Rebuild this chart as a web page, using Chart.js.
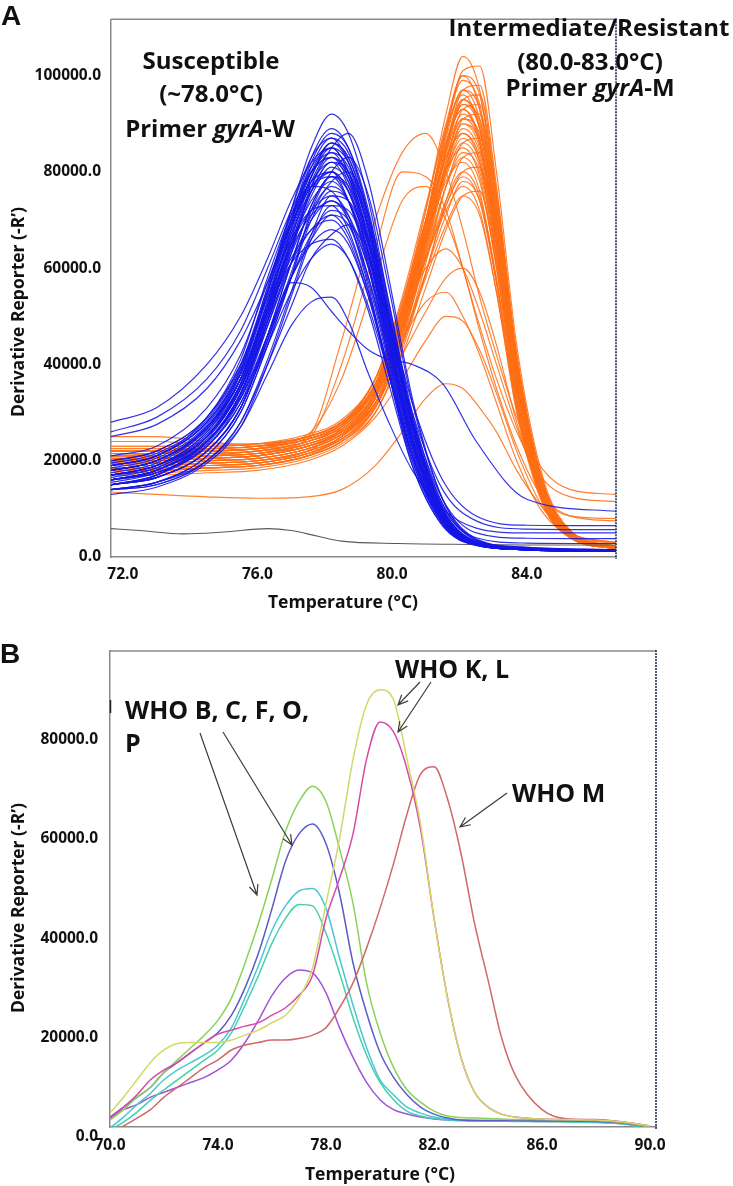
<!DOCTYPE html>
<html><head><meta charset="utf-8">
<script src="https://cdn.jsdelivr.net/npm/chart.js@4.4.1/dist/chart.umd.min.js"></script>
<style>
html,body{margin:0;padding:0;background:#fff;}
#wrap{position:relative;width:733px;height:1186px;overflow:hidden;background:#fff;}
canvas{position:absolute;left:0;}
#cA{top:0;width:733px;height:620px;}
#cB{top:620px;width:733px;height:566px;}
</style></head><body>
<div id="wrap"><canvas id="cA" width="733" height="620"></canvas><canvas id="cB" width="733" height="566"></canvas></div>
<script>
// ---------------- Panel A data (derivative reporter, thousands) ----------------
const tempGridSusceptible = [71.65, 73, 74.5, 75.5, 76.3, 77, 77.6, 78.2, 78.7, 79.3, 79.9, 80.6, 81.5, 82.5, 84, 86.65];
const susceptibleCurvesK = [
 [18, 20, 27, 38, 55, 72, 85, 92, 88, 74, 53, 29, 10, 3.2, 1.8, 1.4],
 [17, 19, 26, 37, 53, 70, 83, 89, 85, 71, 51, 28, 9.5, 3, 1.7, 1.3],
 [16, 17.5, 23, 33, 48, 63, 77, 85, 88, 78, 58, 33, 12, 3.5, 1.8, 1.4],
 [19, 21, 28, 39, 56, 72, 83, 87, 82, 68, 48, 26, 9, 3, 1.6, 1.2],
 [15, 17, 24, 34, 50, 66, 79, 86, 83, 70, 50, 27, 9, 2.8, 1.5, 1.2],
 [20, 22, 29, 40, 56, 71, 81, 85, 80, 66, 46, 24, 8, 2.6, 1.5, 1.2],
 [17, 18.5, 25, 35, 51, 66, 78, 84, 81, 68, 49, 27, 9.5, 3, 1.7, 1.3],
 [14, 15.5, 21, 30, 44, 58, 72, 80, 83, 75, 56, 32, 12, 3.8, 2, 1.5],
 [18, 20, 27, 38, 54, 69, 78, 82, 77, 63, 44, 23, 8, 2.6, 1.5, 1.2],
 [16, 18, 24, 34, 49, 64, 75, 81, 78, 66, 48, 27, 9.5, 3, 1.6, 1.3],
 [21, 23, 31, 42, 57, 70, 78, 80, 74, 60, 41, 21, 7, 2.5, 1.5, 1.2],
 [15, 16.5, 22, 31, 46, 61, 73, 79, 76, 65, 48, 27, 10, 3.2, 1.8, 1.4],
 [17, 19, 26, 36, 51, 65, 74, 78, 74, 61, 43, 23, 8, 2.7, 1.6, 1.3],
 [19, 21, 29, 41, 58, 71, 77, 76, 70, 56, 38, 19, 6.5, 2.4, 1.5, 1.2],
 [14, 15.5, 21, 30, 44, 58, 70, 76, 74, 63, 46, 26, 9.5, 3, 1.7, 1.3],
 [18, 20, 27, 37, 52, 65, 72, 75, 71, 58, 41, 22, 7.5, 2.6, 1.5, 1.2],
 [16, 18, 24, 34, 48, 61, 70, 74, 71, 60, 43, 24, 8.5, 2.8, 1.6, 1.3],
 [20, 22, 29, 40, 54, 66, 72, 73, 68, 55, 38, 20, 7, 2.5, 1.5, 1.2],
 [15, 16.5, 22, 31, 45, 58, 67, 72, 70, 60, 44, 25, 9, 3, 1.7, 1.3],
 [17, 19, 25, 35, 49, 61, 68, 71, 67, 55, 39, 21, 7.5, 2.7, 1.6, 1.3],
 [18, 20, 27, 37, 51, 62, 68, 70, 66, 54, 38, 20, 7, 2.5, 1.5, 1.2],
 [14, 15, 20, 28, 40, 52, 62, 67, 69, 62, 47, 28, 11, 3.5, 2, 1.5],
 [16, 18, 24, 33, 46, 58, 65, 68, 65, 54, 39, 21, 7.5, 2.7, 1.6, 1.3],
 [19, 21, 28, 38, 51, 61, 65, 66, 62, 51, 36, 19, 6.5, 2.4, 1.5, 1.2],
 [15, 17, 23, 32, 44, 55, 62, 65, 62, 52, 38, 21, 8, 2.8, 1.7, 1.3],
 [17, 19, 25, 36, 52, 69, 82, 88, 85, 72, 52, 29, 10, 3.1, 1.7, 1.3],
 [16, 18, 25, 36, 52, 68, 80, 86, 82, 69, 49, 27, 9, 2.9, 1.6, 1.2],
 [19, 21, 28, 39, 55, 70, 80, 83, 78, 64, 45, 24, 8, 2.6, 1.5, 1.2],
 [15, 16.5, 22, 31, 45, 59, 71, 78, 80, 71, 53, 30, 11, 3.5, 1.9, 1.4],
 [17, 19, 25, 35, 50, 63, 72, 77, 74, 62, 44, 24, 8.5, 2.8, 1.6, 1.3],
 [18, 20, 27, 37, 52, 64, 71, 74, 70, 57, 40, 21, 7, 2.5, 1.5, 1.2],
 [16, 17.5, 23, 32, 46, 58, 66, 71, 69, 58, 42, 23, 8.5, 3, 1.7, 1.3],
 [28, 31, 40, 50, 62, 74, 82, 85, 80, 66, 47, 25, 9, 3, 1.8, 1.4],
 [26, 29, 37, 47, 60, 72, 80, 83, 79, 65, 46, 25, 9, 3, 1.8, 1.4],
 [25, 27.5, 35, 45, 57, 69, 77, 80, 76, 63, 45, 24, 8.5, 2.8, 1.6, 1.3],
 [14, 15, 20, 28, 41, 55, 67, 75, 74, 65, 50, 32, 16, 8.5, 6.6, 6.5],
 [13, 14.5, 19.5, 27, 40, 54, 66, 73, 72, 63, 48, 30, 14, 7.5, 5.8, 5.7],
 [15, 16.5, 22, 31, 46, 61, 73, 79, 77, 66, 49, 29, 12, 5, 3.9, 3.8],
 [16, 18, 24, 34, 49, 64, 76, 82, 79, 67, 49, 28, 10.5, 4, 2.9, 2.8],
 [16.5, 18.5, 25, 35.5, 51, 67, 79, 85, 82, 69, 50, 27.5, 9.5, 3, 1.7, 1.3],
 [18.5, 20.5, 27.5, 38.5, 55, 70, 80, 84, 79, 65, 46, 25, 8.5, 2.8, 1.6, 1.2],
 [15.5, 17.5, 23.5, 33.5, 49, 65, 77, 83, 80, 68, 49, 27, 9.5, 3, 1.7, 1.3],
 [17.5, 19.5, 26.5, 37, 53, 68, 79, 86, 83, 70, 50, 28, 9.5, 3, 1.7, 1.3],
 [19.5, 21.5, 28.5, 39.5, 55, 69, 77, 79, 74, 61, 42, 22, 7.5, 2.6, 1.5, 1.2],
 [16, 18, 24.5, 35, 50, 65, 76, 82, 80, 68, 50, 28, 10, 3.1, 1.7, 1.3],
 [18, 20, 26.5, 37, 53, 67, 76, 80, 76, 63, 44, 23, 8, 2.7, 1.6, 1.3],
 [17, 19, 25.5, 36, 52, 68, 81, 87, 84, 71, 51, 28, 9.5, 3, 1.7, 1.3],
 [15, 17, 24, 33, 45, 57, 56, 51, 47, 43, 41, 40, 36, 24, 12, 9.5],
 [14, 15.5, 20, 27, 38, 48, 53, 54, 49, 38, 28, 18, 10, 6, 5, 5]
];
const tempGridResistant = [71.65, 73, 74.5, 76, 77.5, 78.5, 79.5, 80.3, 81, 81.6, 82.1, 82.6, 83.1, 83.7, 84.5, 85.3, 86.65];
const resistantCurvesK = [
 [21, 21, 21.5, 22, 24, 27.5, 36, 52, 72, 92, 104, 97, 74, 40, 14, 5, 2],
 [19, 19, 19.5, 20, 22, 25, 33, 48, 68, 88, 101, 102, 80, 44, 16, 5.5, 2.2],
 [22, 22, 22.5, 23, 25, 28, 37, 53, 72, 90, 100, 93, 71, 38, 13, 4.5, 1.8],
 [20, 20.5, 21, 21.5, 23, 26, 34, 50, 70, 89, 99, 94, 73, 40, 14, 5, 2],
 [18.5, 18.5, 19, 19.5, 21.5, 24.5, 32, 47, 66, 85, 97, 98, 77, 42, 15, 5.2, 2.1],
 [21, 21, 21.5, 22, 24, 27, 35, 51, 70, 88, 97, 91, 70, 38, 13, 4.6, 1.9],
 [23, 23, 23, 23.5, 25, 28, 37, 54, 73, 89, 96, 89, 68, 36, 12, 4.3, 1.8],
 [19.5, 19.5, 20, 20.5, 22.5, 25.5, 33, 48, 67, 85, 95, 90, 70, 39, 14, 5, 2],
 [20, 20, 20.5, 21, 23, 26, 34, 50, 68, 85, 94, 89, 69, 38, 13.5, 4.8, 1.9],
 [22, 22, 22, 22.5, 24.5, 27.5, 36, 52, 70, 86, 93, 86, 65, 35, 12, 4.3, 1.8],
 [18, 18, 18.5, 19, 21, 24, 31, 45, 63, 80, 91, 92, 73, 41, 15, 5.3, 2.1],
 [21, 21, 21.5, 22, 24, 27, 35, 50, 67, 83, 91, 86, 66, 36, 12.5, 4.5, 1.8],
 [19, 19.5, 20, 20.5, 22.5, 25.5, 33, 47, 65, 81, 90, 86, 67, 37, 13, 4.7, 1.9],
 [20.5, 20.5, 21, 21.5, 23.5, 26.5, 34, 49, 66, 81, 89, 84, 65, 36, 12.5, 4.5, 1.8],
 [23, 23, 23, 23.5, 25.5, 28.5, 37, 53, 70, 83, 88, 82, 62, 33, 11, 4, 1.7],
 [18, 18, 18.5, 19, 21, 24, 31, 44, 61, 77, 86, 87, 70, 40, 15, 5.3, 2.1],
 [20, 20, 20.5, 21, 23, 26, 33, 48, 64, 79, 86, 81, 63, 35, 12.5, 4.5, 1.8],
 [21.5, 21.5, 22, 22.5, 24.5, 27.5, 35, 50, 66, 80, 85, 79, 60, 33, 11.5, 4.2, 1.8],
 [19, 19, 19.5, 20, 22, 25, 32, 46, 62, 77, 84, 80, 62, 35, 12.5, 4.5, 1.9],
 [20, 20.5, 21, 21.5, 23.5, 26.5, 34, 48, 63, 77, 83, 78, 60, 33, 12, 4.3, 1.8],
 [22, 22, 22.5, 23, 25, 28, 36, 51, 66, 78, 82, 76, 57, 31, 11, 4, 1.7],
 [18.5, 18.5, 19, 19.5, 21.5, 24.5, 31, 44, 59, 73, 80, 81, 65, 37, 14, 5, 2],
 [20, 20, 20.5, 21, 23, 26, 33, 47, 62, 74, 80, 75, 58, 32, 11.5, 4.2, 1.8],
 [21, 21, 21.5, 22, 24, 27, 34, 48, 62, 73, 79, 74, 57, 31, 11, 4, 1.7],
 [19.5, 19.5, 20, 20.5, 22.5, 25.5, 32, 45, 59, 71, 78, 74, 57, 32, 11.5, 4.2, 1.8],
 [22.5, 22.5, 22.5, 23, 25, 28, 35, 49, 62, 72, 77, 72, 55, 30, 10.5, 3.9, 1.7],
 [18, 18, 18.5, 19, 21, 24, 30, 42, 56, 68, 75, 76, 61, 35, 13, 4.8, 2],
 [20, 20, 20.5, 21, 23, 26, 32, 45, 58, 69, 75, 71, 55, 31, 11, 4, 1.7],
 [20.5, 20.5, 21, 21.5, 23.5, 26.5, 34, 49, 69, 89, 100, 96, 75, 41, 14.5, 5.2, 2],
 [19, 19, 19.5, 20, 22, 25, 32, 46, 65, 84, 95, 96, 76, 42, 15, 5.3, 2.1],
 [21.5, 21.5, 22, 22.5, 24.5, 27.5, 35, 51, 69, 86, 93, 87, 67, 36, 12.5, 4.5, 1.8],
 [20, 20, 20.5, 21, 23, 26, 33, 48, 65, 81, 90, 85, 66, 36, 13, 4.6, 1.9],
 [24, 24, 23.5, 23.5, 25, 28, 36, 51, 67, 80, 87, 82, 63, 34, 12, 4.3, 1.8],
 [17.5, 17.5, 18, 18.5, 20.5, 23.5, 30, 43, 59, 74, 83, 84, 67, 38, 14, 5, 2],
 [25, 25, 24, 23, 24.5, 27.5, 35, 50, 66, 80, 88, 83, 64, 35, 12.5, 4.5, 1.8],
 [20.5, 20.5, 21, 21.5, 23.5, 26.5, 34.5, 50, 69, 87, 97, 93, 72, 39, 13.5, 4.8, 1.9],
 [19.5, 19.5, 20, 20.5, 22.5, 25.5, 33, 47.5, 66, 84, 94, 91, 71, 39, 14, 5, 2],
 [21.5, 21.5, 22, 22.5, 24.5, 27.5, 35.5, 51, 68, 84, 92, 87, 67, 36, 12.5, 4.5, 1.8],
 [20, 20, 20.5, 21, 23, 26, 33.5, 48.5, 66, 82, 91, 88, 69, 38, 13.5, 4.8, 1.9],
 [22, 22, 22.5, 23, 25, 28, 36, 52, 70, 86, 95, 89, 68, 36, 12.5, 4.4, 1.8],
 [18.5, 18.5, 19, 19.5, 21.5, 24.5, 31.5, 46, 64, 82, 93, 94, 75, 42, 15, 5.3, 2.1],
 [21, 21.5, 22, 22.5, 25, 45, 70, 84, 88, 80, 68, 54, 42, 29, 18, 14, 13],
 [20, 20.5, 21, 22, 24.5, 40, 64, 80, 79, 72, 60, 48, 37, 26, 16, 12.5, 11.5],
 [22, 22, 22.5, 23, 25.5, 37, 58, 74, 77, 70, 60, 47, 35, 23, 12, 8.5, 8],
 [19, 19, 19.5, 20, 22, 27, 37, 50, 60, 64, 60, 51, 40, 27, 13, 8.5, 7.5],
 [18.5, 18.5, 19, 19.5, 21.5, 25, 32, 42, 51, 58, 60, 55, 44, 28, 12, 5, 3],
 [18, 18, 18.5, 19, 21, 25, 33, 45, 53, 55, 50, 42, 32, 20, 9, 4.5, 3],
 [17, 17, 17.5, 18, 20, 23, 29, 37, 45, 50, 49, 43, 34, 22, 10, 4.5, 2.8],
 [13.5, 13, 12.5, 12.2, 12.5, 14, 19, 26, 33, 36, 35, 31, 26, 18, 10, 5, 3]
];
const tempGridNtc = [71.65, 72.5, 73.8, 75, 76.3, 77, 77.8, 78.5, 80.2, 82.5, 84, 86.65];
const ntcCurveK = [5.9, 5.5, 4.8, 5.2, 5.9, 5.5, 4.3, 3.3, 2.8, 2.6, 2.5, 2.5];
const xTicksA = [72, 76, 80, 84];
const yTicksA = [0, 20000, 40000, 60000, 80000, 100000];

// ---------------- Panel B data (derivative reporter, thousands) ----------------
const tempGridB = [70, 70.5, 71, 71.5, 72, 72.5, 73, 73.5, 74, 74.5, 75, 75.5, 76, 76.5, 77, 77.5, 78, 78.5, 79, 79.5, 80, 80.5, 81, 81.5, 82, 82.5, 83, 83.5, 84, 84.5, 85, 86, 87, 88, 89, 90];
const curveYellowK  = [4.8, 8, 11.5, 15, 17.5, 18.8, 19, 19, 19, 19.5, 20.5, 21.5, 23, 24.5, 28, 34, 47, 60, 76, 87, 90, 88, 76, 63, 44, 28, 16, 9, 6, 4.6, 4, 3.6, 3.5, 3.4, 3, 2.2];
const curveMagentaK = [3.8, 6, 8.5, 11.5, 13.5, 15, 17, 19, 20.7, 21.5, 22.3, 23, 24.5, 26, 28.5, 32.5, 44, 52, 61, 76, 83.5, 81.5, 74, 62, 44, 28, 16, 9, 6, 4.6, 4, 3.6, 3.5, 3.4, 3, 2.2];
const curveRedK     = [0.8, 2.2, 3.8, 5.5, 8, 10, 12, 14, 15.5, 17.5, 18.5, 19, 19.5, 19.5, 19.8, 20.5, 22, 26, 31, 38, 46, 55, 65, 73, 74.5, 68, 57, 43, 31.6, 20, 12.5, 5.5, 3.6, 3.5, 3, 2.2];
const curveGreenK   = [3.4, 5.5, 8, 10, 13, 15.5, 18, 20.5, 23.5, 28, 35, 43, 52, 61.5, 67.5, 70.6, 67.5, 58, 47, 31, 21, 14, 9.5, 7, 5.2, 4.2, 3.9, 3.8, 3.7, 3.6, 3.5, 3.5, 3.4, 3.3, 2.9, 2];
const curveBlueK    = [4, 6, 8, 10, 13, 15, 17, 19, 21, 24.5, 30, 37, 46, 55.5, 61, 63, 59, 49, 35, 25, 17, 12, 8.5, 6, 4.6, 3.8, 3.4, 3.3, 3.3, 3.3, 3.3, 3.2, 3.2, 3.1, 2.8, 1.9];
const curveCyanK    = [1.8, 4, 6.5, 8.8, 11.5, 13.5, 15, 16.5, 18.5, 22, 28, 34.5, 41.6, 46.5, 49.5, 50, 46, 36, 26.5, 18, 11.5, 8.5, 6, 4.8, 4, 3.6, 3.4, 3.3, 3.3, 3.3, 3.2, 3.2, 3.1, 3, 2.7, 1.8];
const curveTealK    = [1.5, 3, 5, 7.4, 9.5, 11.5, 13.5, 15.5, 17.5, 21, 26.5, 32.5, 39, 44, 46.8, 46.5, 41, 33, 24, 16.5, 11, 7.5, 5.2, 4.2, 3.7, 3.4, 3.3, 3.2, 3.2, 3.2, 3.1, 3.1, 3, 2.9, 2.6, 1.7];
const curvePurpleK  = [3.8, 5.5, 6.5, 8, 9, 10, 11, 12, 13.5, 15.5, 19, 23.5, 28.5, 32, 33.6, 33, 29, 22, 16, 11, 7.5, 5.5, 4.6, 4, 3.6, 3.4, 3.3, 3.3, 3.2, 3.2, 3.2, 3.1, 3.1, 3, 2.7, 1.8];
const xTicksB = [70, 74, 78, 82, 86, 90];
const yTicksB = [0, 20000, 40000, 60000, 80000];

// ---------------- helpers ----------------
const FONT = '"Open Sans"';
function toPoints(grid, valsK){ return valsK.map((v,i)=>({x:grid[i], y:v*1000})); }
function lineDs(grid, valsK, color, width){
  return {data: toPoints(grid, valsK), borderColor: color, borderWidth: width, pointRadius: 0,
          pointHoverRadius: 0, fill: false, cubicInterpolationMode: 'monotone'};
}
function tickFont(){ return {family: 'Open Sans', size: 15.5, weight: 'bold'}; }
function runsCentered(ctx, parts, cx, y, size){
  let total = 0;
  parts.forEach(p=>{ ctx.font = (p[1]?'italic ':'') + 'bold ' + size + 'px ' + FONT; p.w = ctx.measureText(p[0]).width; total += p.w; });
  let x = cx - total/2; ctx.textAlign = 'left';
  parts.forEach(p=>{ ctx.font = (p[1]?'italic ':'') + 'bold ' + size + 'px ' + FONT; ctx.fillText(p[0], x, y); x += p.w; });
}
function arrow(ctx, x1, y1, x2, y2){
  const a = Math.atan2(y2-y1, x2-x1), L = 11, s = 0.42;
  ctx.beginPath(); ctx.moveTo(x1,y1); ctx.lineTo(x2,y2);
  ctx.moveTo(x2 - L*Math.cos(a-s), y2 - L*Math.sin(a-s)); ctx.lineTo(x2,y2);
  ctx.lineTo(x2 - L*Math.cos(a+s), y2 - L*Math.sin(a+s));
  ctx.stroke();
}
function frame(ctx, a){
  ctx.strokeStyle = '#8a8a8a'; ctx.lineWidth = 1.5;
  ctx.beginPath(); ctx.moveTo(a.left, a.top); ctx.lineTo(a.right, a.top); ctx.stroke();
  ctx.strokeStyle = '#1f3055'; ctx.lineWidth = 1.6; ctx.setLineDash([2,1]);
  ctx.beginPath(); ctx.moveTo(a.right, a.top - 1); ctx.lineTo(a.right, a.bottom + 2); ctx.stroke();
  ctx.setLineDash([]);
}
function yTitle(ctx, x, y){
  ctx.save(); ctx.translate(x, y); ctx.rotate(-Math.PI/2);
  ctx.font = 'bold 17.5px ' + FONT; ctx.textAlign = 'center'; ctx.textBaseline = 'middle'; ctx.fillStyle = '#111';
  ctx.fillText("Derivative Reporter (-R\u2019)", 0, 0); ctx.restore();
}
function xTitle(ctx, cx, base){
  ctx.font = 'bold 17.5px ' + FONT; ctx.textAlign = 'center'; ctx.textBaseline = 'alphabetic'; ctx.fillStyle = '#111';
  ctx.fillText('Temperature (\u00B0C)', cx, base);
}
function scalesFor(xmin, xmax, xt, ymin, ymax, yt, yW, xH, yPad, xPad){
  return {
    x: {type:'linear', min:xmin, max:xmax,
        afterBuildTicks: s=>{ s.ticks = xt.map(v=>({value:v})); },
        afterFit: s=>{ s.height = xH; },
        ticks:{callback:v=>Number(v).toFixed(1), font:tickFont(), color:'#111', padding:xPad, maxRotation:0, autoSkip:false},
        grid:{display:false, drawTicks:false},
        border:{display:true, color:'#8a8a8a', width:1.5}},
    y: {type:'linear', min:ymin, max:ymax,
        afterBuildTicks: s=>{ s.ticks = yt.map(v=>({value:v})); },
        afterFit: s=>{ s.width = yW; },
        ticks:{callback:v=>Number(v).toFixed(1), font:tickFont(), color:'#111', padding:yPad, autoSkip:false},
        grid:{display:false, drawTicks:false},
        border:{display:true, color:'#8a8a8a', width:1.5}}
  };
}

// ---------------- Panel A ----------------
const dsA = [];
susceptibleCurvesK.forEach(v=>dsA.push(lineDs(tempGridSusceptible, v, 'rgba(22,22,230,0.88)', 1.2)));
dsA.push(lineDs(tempGridNtc, ntcCurveK, '#5a5a5a', 1.1));
resistantCurvesK.forEach(v=>dsA.push(lineDs(tempGridResistant, v, 'rgba(255,110,20,0.88)', 1.15)));

const decorA = {
  id: 'decorA',
  afterDraw(chart){
    const ctx = chart.ctx, a = chart.chartArea;
    ctx.save();
    frame(ctx, a);
    ctx.fillStyle = '#111'; ctx.textBaseline = 'alphabetic';
    ctx.font = 'bold 28px "Liberation Sans"'; ctx.textAlign = 'left'; ctx.fillText('A', 1, 25);
    runsCentered(ctx, [['Susceptible', false]], 211, 69, 24);
    runsCentered(ctx, [['(~78.0\u00B0C)', false]], 211, 102, 24);
    runsCentered(ctx, [['Primer ', false], ['gyrA', true], ['-W', false]], 210, 137, 24);
    runsCentered(ctx, [['Intermediate/Resistant', false]], 589, 36, 24);
    runsCentered(ctx, [['(80.0-83.0\u00B0C)', false]], 590, 70, 24);
    runsCentered(ctx, [['Primer ', false], ['gyrA', true], ['-M', false]], 590, 96, 24);
    yTitle(ctx, 19, 312);
    xTitle(ctx, 343, 608);
    ctx.restore();
  }
};

new Chart(document.getElementById('cA'), {
  type: 'line',
  data: {datasets: dsA},
  options: {
    responsive: false, animation: false, devicePixelRatio: 1,
    layout: {padding: {left: 0, top: 4, right: 117, bottom: 0}},
    plugins: {legend: {display: false}, tooltip: {enabled: false}},
    scales: scalesFor(71.65, 86.65, xTicksA, 0, 111700, yTicksA, 111, 63, 10, 8)
  },
  plugins: [decorA]
});

// ---------------- Panel B ----------------
const dsB = [
  lineDs(tempGridB, curveYellowK,  '#d3d866', 1.5),
  lineDs(tempGridB, curveMagentaK, '#d64aa8', 1.5),
  lineDs(tempGridB, curveRedK,     '#cf6a68', 1.5),
  lineDs(tempGridB, curveGreenK,   '#8ad25a', 1.5),
  lineDs(tempGridB, curveBlueK,    '#5c5cc8', 1.5),
  lineDs(tempGridB, curveCyanK,    '#4cc6d2', 1.5),
  lineDs(tempGridB, curveTealK,    '#46d0ac', 1.5),
  lineDs(tempGridB, curvePurpleK,  '#a452d6', 1.5)
];

const decorB = {
  id: 'decorB',
  afterDraw(chart){
    const ctx = chart.ctx, a = chart.chartArea;
    const oy = -620;
    ctx.save();
    frame(ctx, a);
    ctx.strokeStyle = '#222'; ctx.lineWidth = 1.5;
    ctx.beginPath(); ctx.moveTo(110.5, 700 + oy); ctx.lineTo(110.5, 713 + oy); ctx.stroke();
    ctx.fillStyle = '#111'; ctx.textBaseline = 'alphabetic'; ctx.textAlign = 'left';
    ctx.font = 'bold 28px "Liberation Sans"'; ctx.fillText('B', 0, 663 + oy);
    ctx.font = 'bold 25px ' + FONT;
    ctx.fillText('WHO B, C, F, O,', 125, 719 + oy);
    ctx.fillText('P', 125, 752 + oy);
    ctx.fillText('WHO K, L', 395, 678 + oy);
    ctx.fillText('WHO M', 512, 802 + oy);
    ctx.strokeStyle = '#3c3c3c'; ctx.lineWidth = 1.2;
    arrow(ctx, 200, 733 + oy, 257, 895 + oy);
    arrow(ctx, 223, 732 + oy, 292, 845 + oy);
    arrow(ctx, 420, 682 + oy, 398, 705 + oy);
    arrow(ctx, 431, 682 + oy, 398, 732 + oy);
    arrow(ctx, 507, 793 + oy, 460, 827 + oy);
    yTitle(ctx, 19, 908 + oy);
    xTitle(ctx, 380, 1180 + oy);
    ctx.restore();
  }
};

new Chart(document.getElementById('cB'), {
  type: 'line',
  data: {datasets: dsB},
  options: {
    responsive: false, animation: false, devicePixelRatio: 1,
    layout: {padding: {left: 0, top: 31, right: 77, bottom: 0}},
    plugins: {legend: {display: false}, tooltip: {enabled: false}},
    scales: scalesFor(70, 90.22, xTicksB, 2000, 97800, yTicksB, 110, 59, 12, 9)
  },
  plugins: [decorB]
});
</script>
</body></html>
